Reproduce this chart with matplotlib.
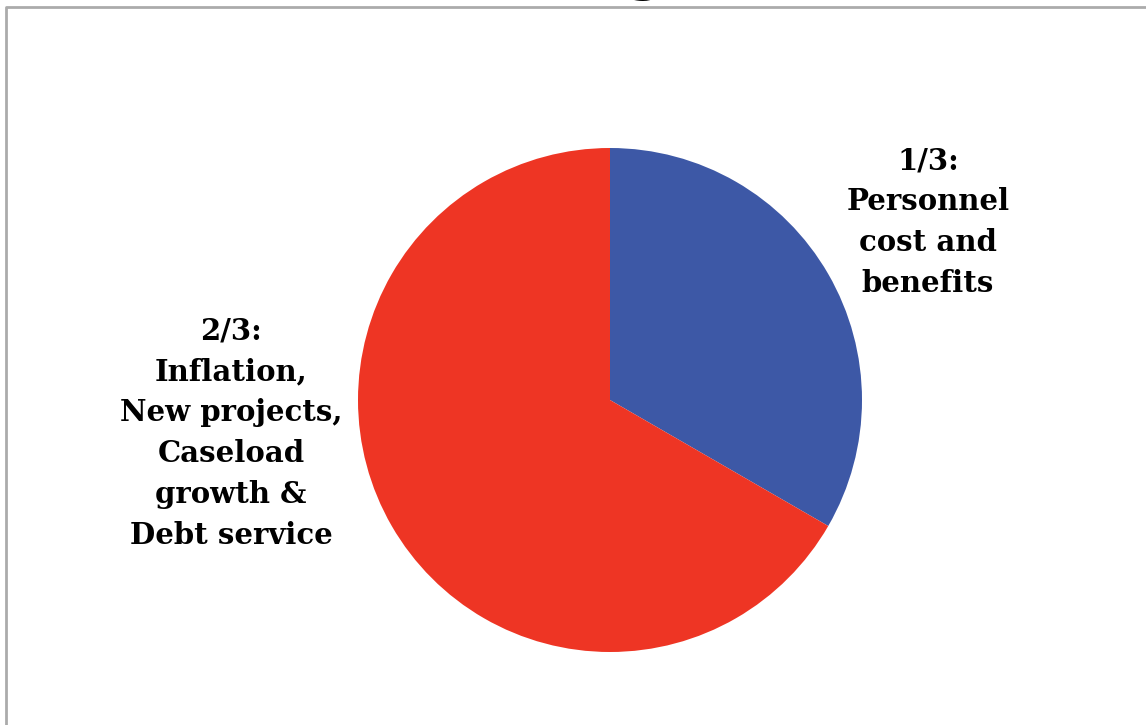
import matplotlib
matplotlib.use('Agg')
import matplotlib.pyplot as plt

# data
shares = [1/3, 2/3]
labels = ['1/3:\nPersonnel\ncost and\nbenefits',
          '2/3:\nInflation,\nNew projects,\nCaseload\ngrowth &\nDebt service']
colors = ['#3D58A6', '#EE3524']

W, H = 1146, 725
fig = plt.figure(figsize=(W / 100, H / 100), dpi=100)
ax = fig.add_axes([0, 0, 1, 1])

ax.pie(shares, colors=colors, startangle=90, counterclock=False,
       center=(610, H - 400), radius=252, frame=True,
       wedgeprops=dict(linewidth=0))
ax.set_xlim(0, W)
ax.set_ylim(0, H)
ax.set_aspect('equal')
ax.axis('off')

# frame of the original chart area (cut off at right and bottom)
ax.plot([6, 6, W], [0, H - 7, H - 7], color='#ABABAB', lw=2)

# title is cut off at the top, only a descender shows
ax.text(645, H + 27, 'g', ha='center', va='center', fontsize=40,
        fontweight='bold', family='DejaVu Serif', clip_on=True)

font = dict(family='DejaVu Serif', fontweight='bold', fontsize=21,
            linespacing=1.52, ha='center', va='center')
ax.text(928, H - 222, labels[0], **font)
ax.text(231, H - 433, labels[1], **font)

plt.savefig('out.png', dpi=100)
